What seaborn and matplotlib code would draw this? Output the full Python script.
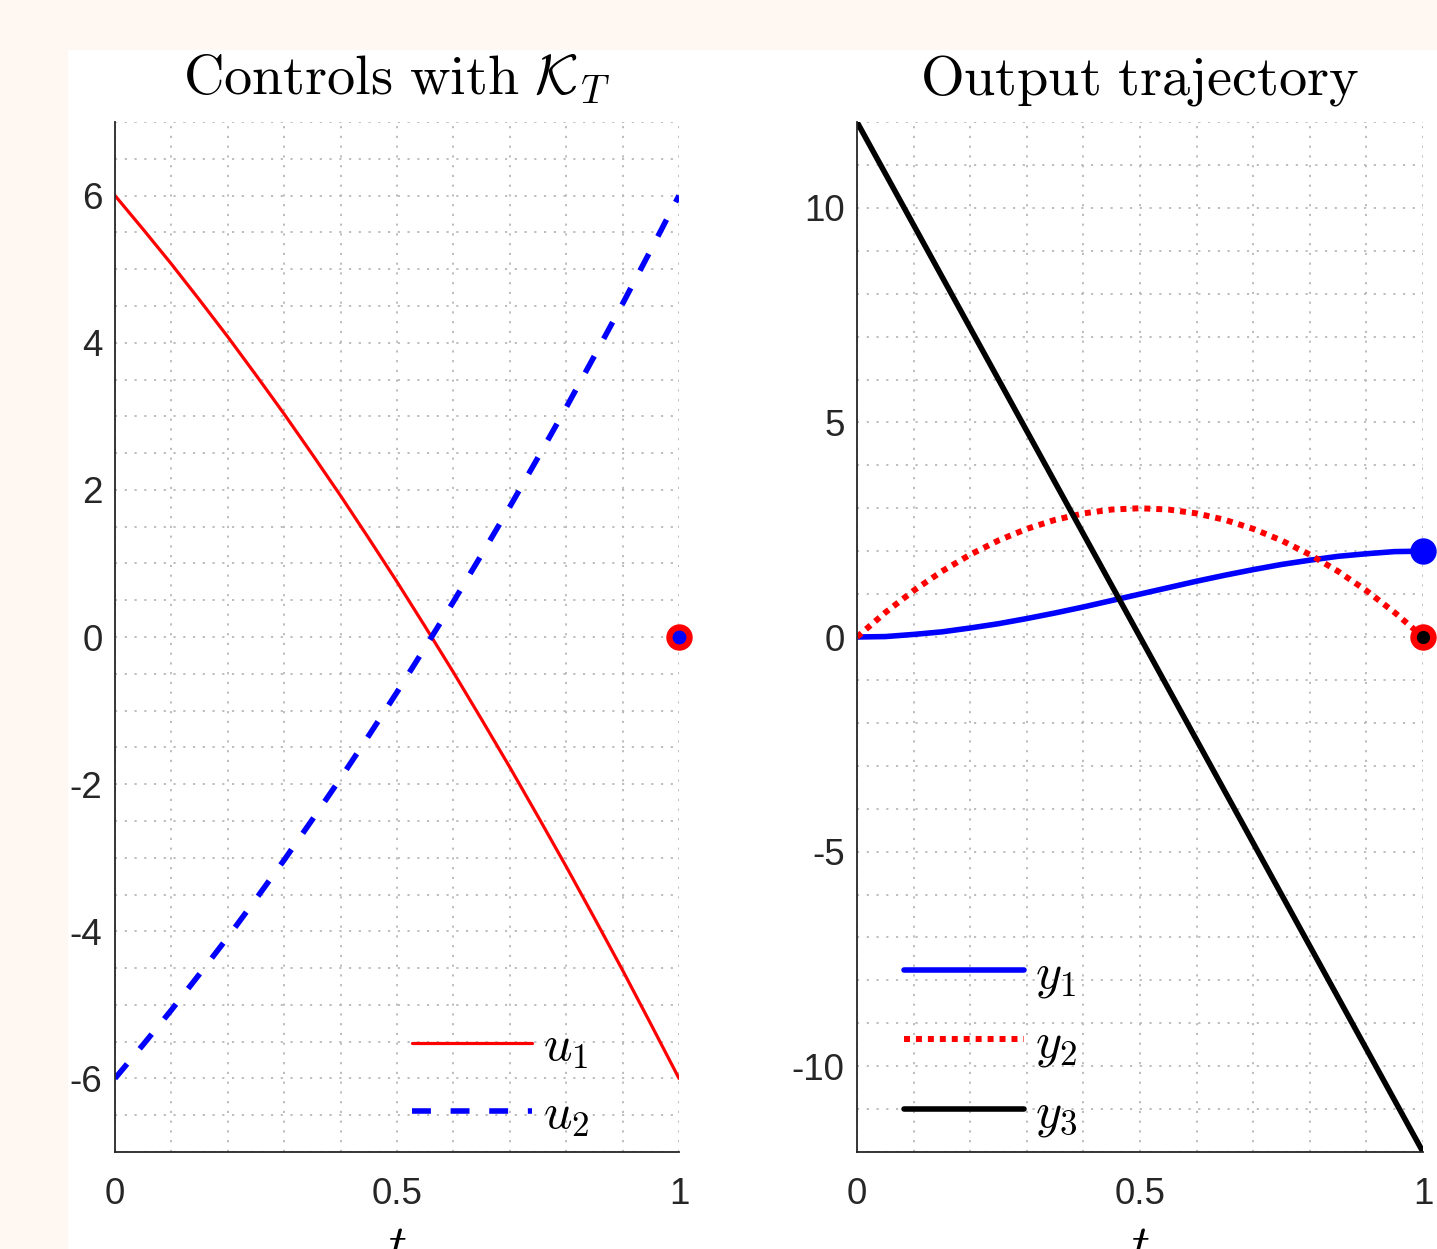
import numpy as np
import pandas as pd
import matplotlib.pyplot as plt
import seaborn as sns
from matplotlib.patches import Rectangle
from matplotlib.ticker import MultipleLocator

# time grid and values
t = [0.00, 0.05, 0.10, 0.15, 0.20, 0.25, 0.30, 0.35, 0.40, 0.45, 0.50,
     0.55, 0.60, 0.65, 0.70, 0.75, 0.80, 0.85, 0.90, 0.95, 1.00]
u1 = [6.00, 5.54, 5.07, 4.58, 4.08, 3.56, 3.03, 2.48, 1.92, 1.34, 0.75,
      0.14, -0.48, -1.12, -1.77, -2.44, -3.12, -3.82, -4.53, -5.26, -6.00]
u2 = [-6.00, -5.54, -5.07, -4.58, -4.08, -3.56, -3.03, -2.48, -1.92, -1.34, -0.75,
      -0.14, 0.48, 1.12, 1.77, 2.44, 3.12, 3.82, 4.53, 5.26, 6.00]
y1 = [0.00, 0.01, 0.06, 0.12, 0.21, 0.31, 0.43, 0.56, 0.70, 0.85, 1.00,
      1.15, 1.30, 1.44, 1.57, 1.69, 1.79, 1.88, 1.94, 1.99, 2.00]
y2 = [0.00, 0.57, 1.08, 1.53, 1.92, 2.25, 2.52, 2.73, 2.88, 2.97, 3.00,
      2.97, 2.88, 2.73, 2.52, 2.25, 1.92, 1.53, 1.08, 0.57, 0.00]
y3 = [12.0, 10.8, 9.6, 8.4, 7.2, 6.0, 4.8, 3.6, 2.4, 1.2, 0.0,
      -1.2, -2.4, -3.6, -4.8, -6.0, -7.2, -8.4, -9.6, -10.8, -12.0]

# target markers at final time
t_final = 1.0
u_target = 0.0
y1_target = 2.0
y23_target = 0.0

df = pd.DataFrame({'t': t, 'u1': u1, 'u2': u2, 'y1': y1, 'y2': y2, 'y3': y3})

sns.set_style('white')
plt.rcParams['font.family'] = ['Liberation Sans', 'DejaVu Sans']
plt.rcParams['mathtext.fontset'] = 'cm'

W, H = 1437, 1249
fig = plt.figure(figsize=(W / 100, H / 100), dpi=100, facecolor='#FFF7F1')
fig.add_artist(Rectangle((68 / W, 0), 1, 1 - 50 / H, transform=fig.transFigure,
                         facecolor='white', edgecolor='none', zorder=-5))

ax1 = fig.add_axes([115 / W, 1 - 1152 / H, (679 - 115) / W, (1152 - 122) / H])
ax2 = fig.add_axes([857 / W, 1 - 1152 / H, (1423 - 857) / W, (1152 - 122) / H])

# left: controls
sns.lineplot(data=df, x='t', y='u1', ax=ax1, color='red', lw=2.3, label='$u_1$')
sns.lineplot(data=df, x='t', y='u2', ax=ax1, color='blue', lw=4, label='$u_2$',
             linestyle=(0, (3.4, 3.55)))
ax1.plot([t_final], [u_target], 'o', ms=18, color='red', clip_on=False, zorder=5)
ax1.plot([t_final], [u_target], 'o', ms=9, color='blue', clip_on=False, zorder=6)

# right: outputs
sns.lineplot(data=df, x='t', y='y1', ax=ax2, color='blue', lw=4, label='$y_1$')
sns.lineplot(data=df, x='t', y='y2', ax=ax2, color='red', lw=4.3, label='$y_2$',
             linestyle=(0, (1, 1)))
sns.lineplot(data=df, x='t', y='y3', ax=ax2, color='black', lw=4, label='$y_3$')
ax2.plot([t_final], [y1_target], 'o', ms=18, color='blue', clip_on=False, zorder=5)
ax2.plot([t_final], [y23_target], 'o', ms=18, color='red', clip_on=False, zorder=5)
ax2.plot([t_final], [y23_target], 'o', ms=8.5, color='black', clip_on=False, zorder=6)

ax1.set_ylim(-7, 7)
ax1.yaxis.set_major_locator(MultipleLocator(2))
ax1.yaxis.set_minor_locator(MultipleLocator(0.5))
ax2.set_ylim(-12, 12)
ax2.yaxis.set_major_locator(MultipleLocator(5))
ax2.yaxis.set_minor_locator(MultipleLocator(1))

ax1.set_title(r'$\mathrm{Controls\ with\ }\mathcal{K}_T$', fontsize=40.5, pad=20,
              color='black')
ax2.set_title(r'$\mathrm{Output\ trajectory}$', fontsize=40.5, pad=20, color='black')

for ax in (ax1, ax2):
    ax.set_xlim(0, 1)
    ax.xaxis.set_major_locator(MultipleLocator(0.5))
    ax.xaxis.set_minor_locator(MultipleLocator(0.1))
    ax.xaxis.set_major_formatter(lambda v, p: f'{v:g}')
    ax.yaxis.set_major_formatter(lambda v, p: f'{v:g}'.replace('\u2212', '-'))
    ax.grid(which='both', color='#b8b8b8', lw=1.3, linestyle=(0, (1.2, 4.2)))
    ax.set_axisbelow(True)
    for s in ('top', 'right'):
        ax.spines[s].set_visible(False)
    for s in ('left', 'bottom'):
        ax.spines[s].set_color('#262626')
        ax.spines[s].set_linewidth(1.3)
    ax.tick_params(which='major', direction='in', length=8, width=1.3,
                   colors='#262626', labelsize=26.5)
    ax.tick_params(axis='x', which='major', pad=18)
    ax.tick_params(axis='y', which='major', pad=9)
    ax.tick_params(which='minor', length=0)
    ax.set_xlabel('$t$', fontsize=36, labelpad=8, color='black')
    ax.set_ylabel('')

leg_kw = dict(frameon=False, fontsize=36, handlelength=2.4, handletextpad=0.22,
              labelspacing=0.42, borderpad=0, borderaxespad=0, labelcolor='black')
ax1.legend(loc='center left', bbox_to_anchor=(0.527, 0.068), **leg_kw)
ax2.legend(loc='center left', bbox_to_anchor=(0.083, 0.104), **leg_kw)

fig.savefig('out.png', dpi=100, facecolor=fig.get_facecolor())
